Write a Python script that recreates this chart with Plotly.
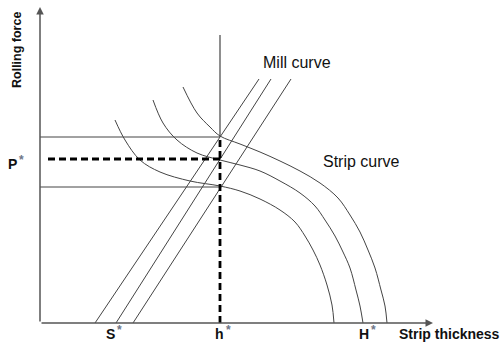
import plotly.graph_objects as go

# strip curves (outer = thickest entry), x = thickness, y = force
strip_a_x = [143, 157, 170, 180, 200, 220, 240, 260, 280, 298, 310, 320, 328, 335, 341, 345, 347]
strip_a_y = [236, 210, 196, 187, 179, 171, 162, 152, 140, 125, 108, 91, 73, 55, 33, 17, 0]
strip_b_x = [113, 123, 137, 157, 180, 200, 220, 240, 260, 275, 285, 295, 303, 310, 316, 320, 323]
strip_b_y = [223, 200, 183, 170, 163, 158, 152, 142, 130, 117, 103, 87, 71, 55, 33, 17, 0]
strip_c_x = [75, 85, 100, 120, 150, 180, 200, 220, 240, 255, 265, 273, 280, 287, 292, 294]
strip_c_y = [203, 183, 163, 151, 142, 137, 132, 124, 113, 101, 87, 73, 58, 38, 18, 0]

# mill lines: x at zero force and x at top
mill_x0 = [55, 76, 93]
mill_x1 = [219, 231, 251]
mill_top = 244

h_star = 180
p_star = 164
p_levels = [186, 136]
h_top = 288

# axis marks: letter, x, y (data units)
marks = ['P', 'S', 'h', 'H']
mark_x = [-28, 70, 179, 324]
mark_y = [159, -11, -11, -11]

line_col = '#444444'
fig = go.Figure()

for xs, ys in [(strip_a_x, strip_a_y), (strip_b_x, strip_b_y), (strip_c_x, strip_c_y)]:
    fig.add_trace(go.Scatter(x=xs, y=ys, mode='lines', line=dict(color=line_col, width=1, shape='spline')))

for x0, x1 in zip(mill_x0, mill_x1):
    fig.add_trace(go.Scatter(x=[x0, x1], y=[0, mill_top], mode='lines', line=dict(color=line_col, width=1)))

# horizontal guides at upper / lower force
for p in p_levels:
    fig.add_trace(go.Scatter(x=[0, h_star], y=[p, p], mode='lines', line=dict(color=line_col, width=1)))

# vertical line above the top level
fig.add_trace(go.Scatter(x=[h_star, h_star], y=[max(p_levels), h_top], mode='lines', line=dict(color=line_col, width=1.2)))

# dashed operating point lines
fig.add_trace(go.Scatter(x=[8, h_star], y=[p_star, p_star], mode='lines', line=dict(color='black', width=2.8, dash='7px,4px')))
fig.add_trace(go.Scatter(x=[h_star, h_star], y=[0, max(p_levels)], mode='lines', line=dict(color='black', width=2.8, dash='7px,4px')))

ann = []
# axes with arrows
ann.append(dict(x=0, y=316, ax=0, ay=0, axref='x', ayref='y', xref='x', yref='y', text='', showarrow=True,
                arrowhead=2, arrowsize=1, arrowwidth=1.5, arrowcolor='#555555', standoff=0))
ann.append(dict(x=393, y=0, ax=0, ay=0, axref='x', ayref='y', xref='x', yref='y', text='', showarrow=True,
                arrowhead=2, arrowsize=1, arrowwidth=1.5, arrowcolor='#555555', standoff=0))

bold = dict(family='Arial', size=14, color='#111111')
for m, mx, my in zip(marks, mark_x, mark_y):
    ann.append(dict(x=mx, y=my, text='<b>' + m + '</b>', showarrow=False, font=bold))
    ann.append(dict(x=mx + 9, y=my + 4, text='<b>*</b>', showarrow=False,
                    font=dict(family='Arial', size=12, color='#6f7688')))

ann.append(dict(x=-23, y=273, text='<b>Rolling force</b>', textangle=-90, showarrow=False,
                font=dict(family='Arial', size=12.5, color='#111111')))
ann.append(dict(x=462, y=-11, text='<b>Strip thickness</b>', xanchor='right', showarrow=False,
                font=dict(family='Arial', size=14, color='#111111')))
ann.append(dict(x=257, y=261, text='Mill curve', showarrow=False, font=dict(family='Arial', size=16, color='#111111')))
ann.append(dict(x=321, y=162, text='Strip curve', showarrow=False, font=dict(family='Arial', size=16, color='#111111')))

fig.update_layout(width=503, height=342, margin=dict(l=0, r=0, t=0, b=0),
                  paper_bgcolor='white', plot_bgcolor='white', showlegend=False,
                  xaxis=dict(range=[-40, 463], visible=False),
                  yaxis=dict(range=[-19, 323], visible=False),
                  annotations=ann)
# page body has a default margin; drop it so the figure fills the window
fig.write_html('out.html', config={'displayModeBar': False},
               post_script="document.body.style.margin='0';")
